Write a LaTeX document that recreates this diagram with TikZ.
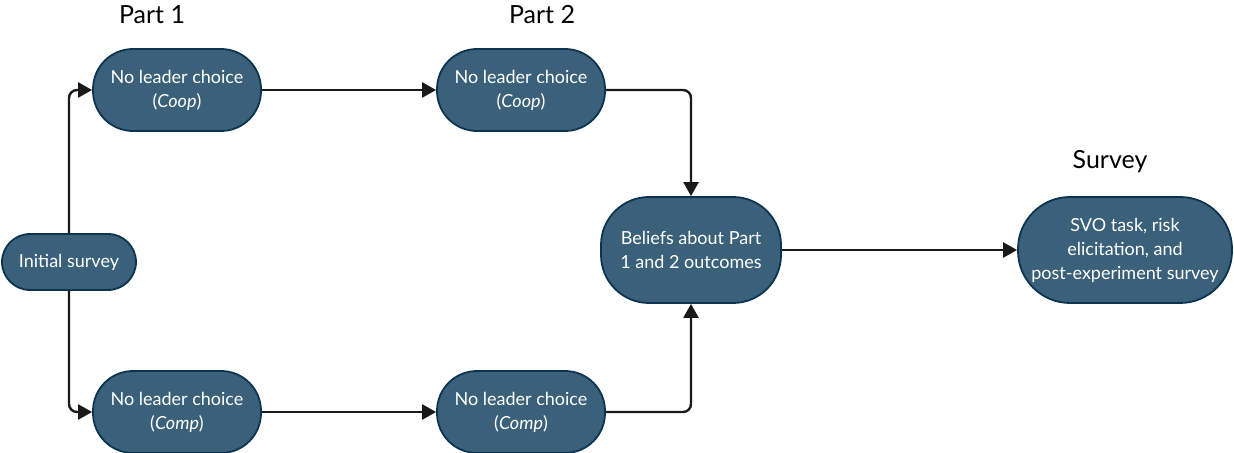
\documentclass[tikz,border=0pt]{standalone}
\usepackage{fontspec}
\setmainfont{Lato}
\usetikzlibrary{arrows.meta}
\usetikzlibrary{positioning,calc}
\definecolor{nodeblue}{RGB}{59,96,121}
\definecolor{nodeborder}{RGB}{12,52,80}
\definecolor{linegray}{RGB}{25,25,25}
\tikzset{
	every node/.style={font=\fontsize{9}{12}\selectfont}
}
\tikzset{
	->,>={Triangle[length=7pt,width=7.5pt]},
	x=0.5pt,y=-0.5pt,
	main node/.style={rectangle,rounded corners=20pt,fill=nodeblue,draw=nodeborder,line width=0.9pt,text=white,align=center,minimum width=84pt,minimum height=41pt,inner sep=2pt},
	head node/.style={font=\fontsize{12.5}{15}\selectfont}
}

\begin{document}
\begin{tikzpicture}[line width=1.2pt,draw=linegray]
      \useasboundingbox (0,0) rectangle (1234,453);
      \node[head node] (part1) at (152,15) {Part 1};
      \node[head node] (part2) at (542,15) {Part 2};
      \node[head node] (survey) at (1110,162) {Survey};
      \node[main node,minimum width=67pt,minimum height=28pt,rounded corners=14pt] (init) at (69,262) {Initial survey};
      \node[main node] (coop1) at (177,90) {No leader choice\\(\textit{Coop})};
      \node[main node] (comp1) at (177,412) {No leader choice\\(\textit{Comp})};
      \node[main node] (coop2) at (521,90) {No leader choice\\(\textit{Coop})};
      \node[main node] (comp2) at (521,412) {No leader choice\\(\textit{Comp})};
      \node[main node,minimum width=90pt,minimum height=53pt,rounded corners=24pt] (beliefs) at (691,250) {Beliefs about Part\\1 and 2 outcomes};
      \node[main node,minimum width=107pt,minimum height=53pt,rounded corners=26pt,inner sep=1pt] (svo) at (1125,250) {SVO task, risk\\elicitation, and\\post-experiment survey};
      \draw[rounded corners=4pt] (init.north) |- (coop1);
      \draw[rounded corners=4pt] (init.south) |- (comp1);
      \draw (coop1) -- (coop2);
      \draw (comp1) -- (comp2);
      \draw[rounded corners=4pt] (coop2) -| (beliefs);
      \draw[rounded corners=4pt] (comp2) -| (beliefs);
      \draw (beliefs) -- (svo);
    \end{tikzpicture}
\end{document}
